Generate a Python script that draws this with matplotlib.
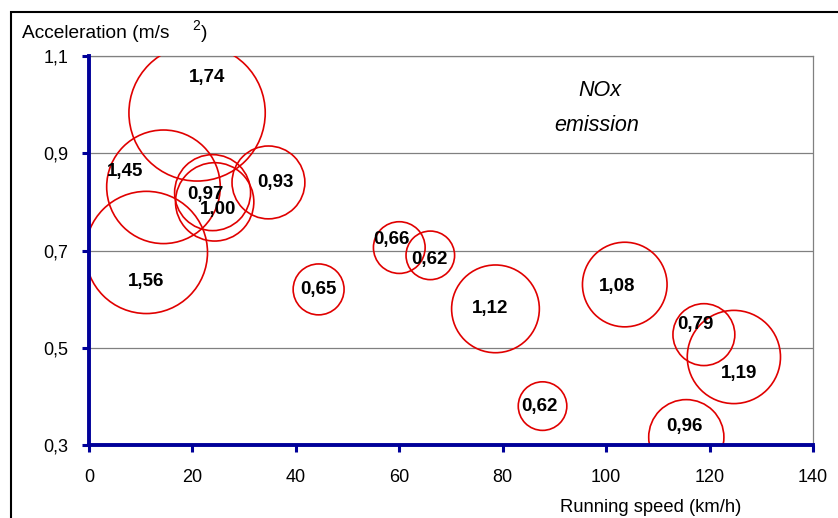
import matplotlib
matplotlib.use("Agg")
import matplotlib.pyplot as plt
from matplotlib.patches import Rectangle

plt.rcParams['font.family'] = ['Liberation Sans', 'DejaVu Sans']

# bubble data
speed = [20.9, 14.4, 11.1, 23.9, 24.3, 34.7, 44.4, 60.0, 66.0, 78.6,
         103.6, 118.9, 124.7, 115.5, 87.7]
accel = [0.983, 0.831, 0.696, 0.819, 0.800, 0.840, 0.620, 0.706, 0.690, 0.580,
         0.630, 0.527, 0.481, 0.316, 0.380]
nox = [1.74, 1.45, 1.56, 0.97, 1.00, 0.93, 0.65, 0.66, 0.62, 1.12,
       1.08, 0.79, 1.19, 0.96, 0.62]

# label offsets from bubble centre (pixels, x right / y up)
label_dx = [10, -38, 0, -7, 3, 7, 0, -8, -1, -5, -8, -8, 5, -2, -3]
label_dy = [35, 15, -29, -2, -8, 0, 0, 8, -4, 0, -2, 10, -17, 11, 0]

yticks = [0.3, 0.5, 0.7, 0.9, 1.1]
ytick_labels = ['0,3', '0,5', '0,7', '0,9', '1,1']
xticks = [0, 20, 40, 60, 80, 100, 120, 140]

navy = '#000099'
red = '#e00000'

fig = plt.figure(figsize=(8.38, 5.18), dpi=100)
ax = fig.add_axes([89 / 838, 1 - 445 / 518, 724 / 838, 389 / 518])

sizes = [(56.4 * v) ** 2 for v in nox]
ax.scatter(speed, accel, s=sizes, facecolors='none', edgecolors=red,
           linewidths=1.2, zorder=3)

for x, y, v, dx, dy in zip(speed, accel, nox, label_dx, label_dy):
    ax.annotate(f"{v:.2f}".replace('.', ','), (x, y), xytext=(dx, dy),
                textcoords='offset pixels', ha='center', va='center',
                fontsize=13.5, fontweight='bold', zorder=4)

ax.set_xlim(0, 140)
ax.set_ylim(0.3, 1.1)
ax.set_xticks(xticks)
ax.set_xticklabels([str(t) for t in xticks])
ax.set_yticks(yticks)
ax.set_yticklabels(ytick_labels)
ax.tick_params(axis='both', labelsize=13, color=navy, width=2.2, length=5,
               direction='out')
ax.tick_params(axis='x', pad=12)
ax.tick_params(axis='y', pad=10)

ax.yaxis.grid(True, color='#808080', linewidth=0.9)
ax.set_axisbelow(True)
for side in ['left', 'bottom']:
    ax.spines[side].set_color(navy)
    ax.spines[side].set_linewidth(2.8)
    ax.spines[side].set_zorder(5)
for side in ['right', 'top']:
    ax.spines[side].set_color('#808080')
    ax.spines[side].set_linewidth(0.9)

ax.text(98.8, 1.03, 'NOx', fontsize=15.5, style='italic', ha='center', va='center')
ax.text(98.2, 0.958, 'emission', fontsize=15.5, style='italic', ha='center', va='center')

# axis titles
fig.text(22 / 838, 1 - 34 / 518, 'Acceleration (m/s', fontsize=13.8, va='center')
fig.text(192 / 838, 1 - 26 / 518, '2', fontsize=10, va='center')
fig.text(201 / 838, 1 - 34 / 518, ')', fontsize=13.8, va='center')
fig.text(651 / 838, 1 - 507 / 518, 'Running speed (km/h)', fontsize=13.2,
         ha='center', va='center')

# outer chart frame (only top and left visible)
fig.patches.append(Rectangle((11 / 838, -0.1), 1.2, 1.1 - 12 / 518,
                             transform=fig.transFigure, fill=False,
                             edgecolor='black', linewidth=1.5))

fig.savefig('out.png', dpi=100)
